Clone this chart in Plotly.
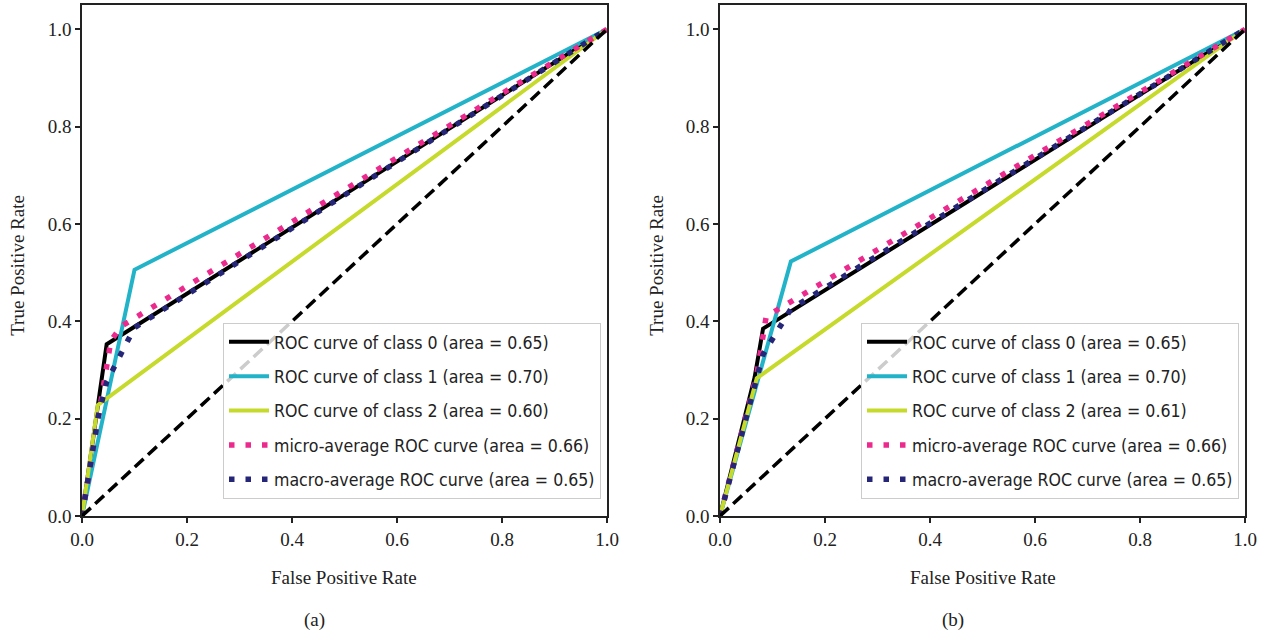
import plotly.graph_objects as go

# ---------------- data: panel (a) ----------------
a_fpr_c0 = [0.0, 0.047, 1.0]
a_tpr_c0 = [0.0, 0.353, 1.0]
a_fpr_c1 = [0.0, 0.100, 1.0]
a_tpr_c1 = [0.0, 0.506, 1.0]
a_fpr_c2 = [0.0, 0.030, 1.0]
a_tpr_c2 = [0.0, 0.228, 1.0]
a_fpr_micro = [0.0, 0.055, 0.075, 1.0]
a_tpr_micro = [0.0, 0.360, 0.390, 1.0]
a_fpr_macro = [0.0, 0.031, 0.047, 0.100, 1.0]
a_tpr_macro = [0.0, 0.205, 0.276, 0.387, 1.0]
a_labels = ["ROC curve of class 0 (area = 0.65)",
            "ROC curve of class 1 (area = 0.70)",
            "ROC curve of class 2 (area = 0.60)",
            "micro-average ROC curve (area = 0.66)",
            "macro-average ROC curve (area = 0.65)"]

# ---------------- data: panel (b) ----------------
b_fpr_c0 = [0.0, 0.066, 0.082, 1.0]
b_tpr_c0 = [0.0, 0.285, 0.385, 1.0]
b_fpr_c1 = [0.0, 0.135, 1.0]
b_tpr_c1 = [0.0, 0.523, 1.0]
b_fpr_c2 = [0.0, 0.070, 1.0]
b_tpr_c2 = [0.0, 0.283, 1.0]
b_fpr_micro = [0.0, 0.070, 0.088, 1.0]
b_tpr_micro = [0.0, 0.290, 0.410, 1.0]
b_fpr_macro = [0.0, 0.066, 0.070, 0.082, 0.135, 1.0]
b_tpr_macro = [0.0, 0.269, 0.288, 0.332, 0.4255, 1.0]
b_labels = ["ROC curve of class 0 (area = 0.65)",
            "ROC curve of class 1 (area = 0.70)",
            "ROC curve of class 2 (area = 0.61)",
            "micro-average ROC curve (area = 0.66)",
            "macro-average ROC curve (area = 0.65)"]

diag = [0.0, 1.0]
tick_vals = [0.0, 0.2, 0.4, 0.6, 0.8, 1.0]
tick_text = ["0.0", "0.2", "0.4", "0.6", "0.8", "1.0"]
panel_tags = ["(a)", "(b)"]

# ---------------- styles ----------------
COLORS = ["#000000", "#22b3c8", "#c6da2c", "#ec2a8e", "#262678"]
SOLID_W = 4
DOT_W = 5.5
DOT_DASH = "5.5px,11px"
SERIF = "Liberation Serif, DejaVu Serif, serif"
LEGFONT = "DejaVu Sans Condensed, Liberation Sans Narrow, DejaVu Sans, sans-serif"

W, H = 1268, 635
M_T, M_B = 5, 635 - 516.3
PLOT_H = H - M_T - M_B

def px_x(p):
    return p / W

def px_y(p):
    return (H - M_B - p) / PLOT_H

fig = go.Figure()

panels = [
    ("x", "y", "legend", a_labels,
     [(a_fpr_c0, a_tpr_c0), (a_fpr_c1, a_tpr_c1), (a_fpr_c2, a_tpr_c2),
      (a_fpr_micro, a_tpr_micro), (a_fpr_macro, a_tpr_macro)]),
    ("x2", "y2", "legend2", b_labels,
     [(b_fpr_c0, b_tpr_c0), (b_fpr_c1, b_tpr_c1), (b_fpr_c2, b_tpr_c2),
      (b_fpr_micro, b_tpr_micro), (b_fpr_macro, b_tpr_macro)]),
]

for xa, ya, leg, labels, series in panels:
    for i, ((fx, ty), lab) in enumerate(zip(series, labels)):
        dotted = i >= 3
        fig.add_trace(go.Scatter(
            x=fx, y=ty, mode="lines", name=lab,
            xaxis=xa, yaxis=ya, legend=leg, legendgroup=f"{leg}_{i}",
            line=dict(color=COLORS[i], width=DOT_W if dotted else SOLID_W,
                      dash=DOT_DASH if dotted else "solid"),
        ))
    fig.add_trace(go.Scatter(
        x=diag, y=diag, mode="lines", showlegend=False,
        xaxis=xa, yaxis=ya,
        line=dict(color="#000000", width=3.5, dash="12px,6px"),
    ))

axis_common = dict(
    range=[0, 1], tickvals=tick_vals, ticktext=tick_text,
    showline=True, mirror=True, linecolor="#222222", linewidth=1.5,
    ticks="outside", ticklen=5, tickwidth=1.5, tickcolor="#222222",
    showgrid=False, zeroline=False, automargin=False,
    tickfont=dict(family=SERIF, size=19, color="#222222"),
)

x_dom_a = [px_x(82), px_x(607)]
x_dom_b = [px_x(720), px_x(1245)]

legend_common = dict(
    xanchor="left", yanchor="top",
    bgcolor="rgba(255,255,255,0.8)", bordercolor="#cccccc", borderwidth=1,
    font=dict(family=LEGFONT, size=17.6, color="#222222"),
    tracegroupgap=8.5, itemwidth=40,
)

fig.update_layout(
    width=W, height=H, autosize=False,
    margin=dict(l=0, r=0, t=M_T, b=M_B, pad=0, autoexpand=False),
    paper_bgcolor="white", plot_bgcolor="white",
    xaxis=dict(axis_common, domain=x_dom_a, anchor="y"),
    yaxis=dict(axis_common, range=[0, 1.05], domain=[0, 1], anchor="x"),
    xaxis2=dict(axis_common, domain=x_dom_b, anchor="y2"),
    yaxis2=dict(axis_common, range=[0, 1.05], domain=[0, 1], anchor="x2"),
    legend=dict(legend_common, x=px_x(223), y=px_y(323)),
    legend2=dict(legend_common, x=px_x(861), y=px_y(323)),
    showlegend=True,
)

annots = []
for cx, tag in [((82 + 607) / 2, panel_tags[0]), ((720 + 1245) / 2, panel_tags[1])]:
    annots.append(dict(text="False Positive Rate", x=px_x(cx), y=px_y(578),
                       xref="paper", yref="paper", showarrow=False,
                       xanchor="center", yanchor="middle",
                       font=dict(family=SERIF, size=19, color="#222222")))
    annots.append(dict(text=tag, x=px_x(cx - 30), y=px_y(620),
                       xref="paper", yref="paper", showarrow=False,
                       xanchor="center", yanchor="middle",
                       font=dict(family=SERIF, size=19, color="#222222")))
for cx in [18, 657]:
    annots.append(dict(text="True Positive Rate", x=px_x(cx), y=px_y(266),
                       xref="paper", yref="paper", showarrow=False, textangle=-90,
                       xanchor="center", yanchor="middle",
                       font=dict(family=SERIF, size=19, color="#222222")))
fig.update_layout(annotations=annots)

fig.write_html("out.html",
               config={"displayModeBar": False},
               post_script="document.body.style.margin='0px';document.body.style.overflow='hidden';")
